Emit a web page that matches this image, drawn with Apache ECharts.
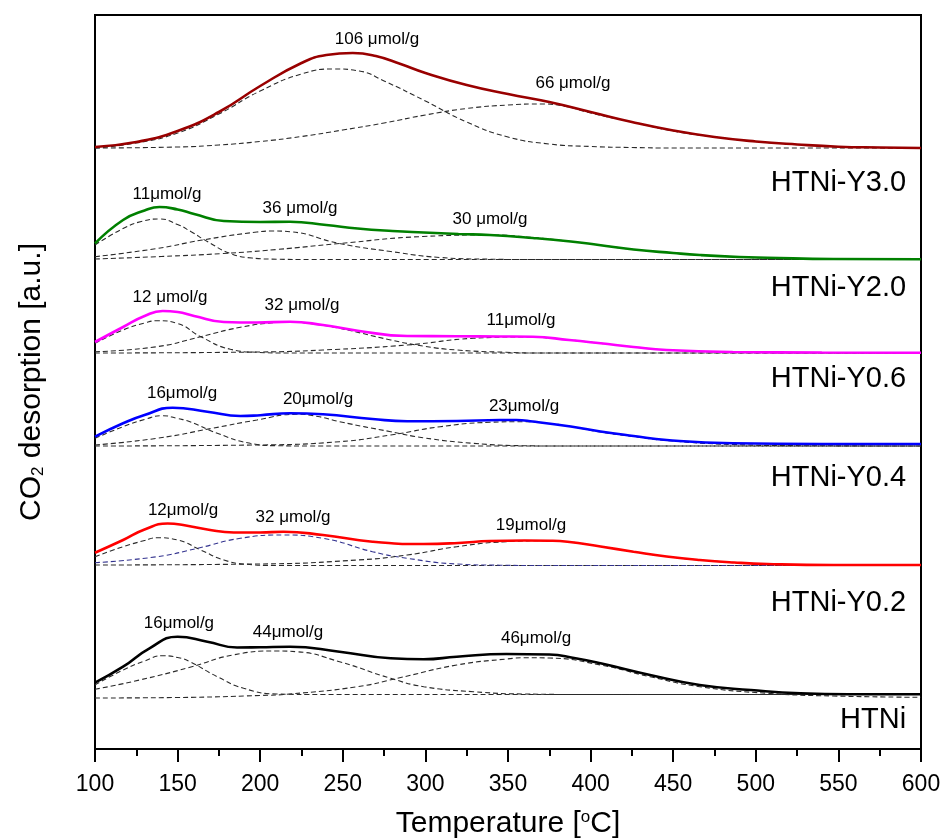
<!DOCTYPE html>
<html>
<head>
<meta charset="utf-8">
<script src="https://cdn.jsdelivr.net/npm/echarts@6/dist/echarts.min.js"></script>
<style>
  html, body { margin: 0; padding: 0; background: #fff; }
  #chart { width: 944px; height: 839px; }
</style>
</head>
<body>
<div id="chart"></div>
<script>
// CO2-TPD profiles, stacked with a vertical offset per sample.
// Each profile: measured curve + deconvoluted component peaks, [temperature (°C), signal (a.u.)].

const sampleNames = ['HTNi-Y3.0', 'HTNi-Y2.0', 'HTNi-Y0.6', 'HTNi-Y0.4', 'HTNi-Y0.2', 'HTNi'];
const sampleOffsets = [601, 489.5, 396, 303, 183.5, 51];

// HTNi-Y3.0
const y30Total = [[100,1],[125,6],[150,17],[175,36],[200,62],[225,85],[240,93],[256,95],[270,92],[285,84],[300,75],[325,63],[350,54],[375,46],[400,36],[425,26],[450,17.5],[475,11],[500,6.5],[525,3.5],[550,1.3],[575,0.5],[600,0]];
const y30PeakA = [[100,0],[125,5],[150,15],[175,34],[200,57],[225,74],[245,79],[260,77],[275,67],[300,47],[325,26],[350,11],[375,4],[400,1.5],[425,0.5],[450,0],[600,0]];
const y30PeakB = [[100,0],[150,1],[175,3],[200,6.5],[225,11.5],[250,18],[275,25],[300,33],[325,39.5],[350,43],[370,44],[385,41.5],[400,35],[425,26],[450,17],[475,11],[500,6.5],[525,3.5],[550,1.3],[575,0.5],[600,0]];
const y30Amounts = ['106 μmol/g', '66 μmol/g'];

// HTNi-Y2.0
const y20Total = [[100,16],[117,39.5],[130,49],[139,52.5],[150,50],[160,45.5],[178,38.5],[200,37.5],[218,37.8],[240,34.5],[259,31],[280,28.5],[299,27],[320,25.5],[339,24.5],[365,21.5],[388,18],[405,14.5],[426,10],[450,6.5],[466,4.5],[490,2.5],[507,1.8],[547,0.5],[600,0.2]];
const y20PeakA = [[100,14.5],[117,31],[128,38],[139,40.5],[150,35],[158,28],[168,18],[182,6],[195,1.5],[210,0.3],[230,0],[600,0]];
const y20PeakB = [[100,2.8],[137.5,11],[165,19.5],[198,27.5],[208,28.5],[218,27.8],[248,16],[279,8],[309,2],[339,0.3],[360,0],[600,0]];
const y20PeakC = [[100,0.5],[140,3],[177.5,6],[210,10],[248,16],[298.5,23],[339,24.5],[365,22],[388,18],[405,14.5],[426,10],[450,6.5],[466,4.5],[490,2.5],[507,1.5],[547,0.5],[600,0]];
const y20Amounts = ['11μmol/g', '36 μmol/g', '30 μmol/g'];

// HTNi-Y0.6
const y06Total = [[100,11],[117,26],[130,37],[141,42],[150,41],[160,37],[178,31],[198,30.5],[218,31.3],[238,28],[259,22.3],[289,17],[319,16.8],[345,16.5],[365,16.2],[387,13],[406,9.7],[426,6],[446,3],[486,1],[540,0.5],[600,0.3]];
const y06PeakA = [[100,9.7],[117,23],[130,30],[138,32.3],[150,29.5],[164,16.3],[182,3.7],[198,0.7],[215,0],[600,0]];
const y06PeakB = [[100,1.3],[137.5,6.3],[164,16.3],[188,25.7],[210,30.5],[218,31],[230,29.5],[248,24.7],[279,13],[298.5,7],[319,3],[349,0.7],[370,0],[600,0]];
const y06PeakC = [[100,0],[200,1],[238,3],[289,8],[329,14.7],[359,16],[375,15],[388,13],[406,9.7],[426,6],[446,3],[486,1],[530,0.3],[600,0]];
const y06Amounts = ['12 μmol/g', '32 μmol/g', '11μmol/g'];

// HTNi-Y0.4
const y04Total = [[100,9.3],[117,22.7],[130,31],[147,38.3],[168,34.3],[188,30],[200,30.8],[218,32.7],[238,31.7],[268,27],[289,24.8],[319,25],[345,26],[355,26],[365,24.5],[388,19.5],[406,14.5],[426,10],[446,6],[486,2.7],[540,2],[600,2]];
const y04PeakA = [[100,7.7],[117,19.3],[130,26.5],[141,30.3],[150,27.5],[157.5,24.3],[174,12.7],[194,2.7],[210,0.3],[230,0],[600,0]];
const y04PeakB = [[100,1],[137.5,7.7],[171,17.7],[198,26],[222,31.7],[235,29.5],[248,24.3],[279,14.3],[298.5,8.3],[329,2.7],[359,0.3],[380,0],[600,0]];
const y04PeakC = [[100,0],[198,1],[248,4.3],[279,11],[309,19.3],[339,23.7],[359,24.3],[375,22.5],[388,19.5],[406,14],[426,9.5],[446,5.5],[486,1.5],[530,0.3],[600,0]];
const y04Amounts = ['16μmol/g', '20μmol/g', '23μmol/g'];

// HTNi-Y0.2
const y02Total = [[100,12.8],[117,25.5],[130,36],[144,42],[155,40],[168,36],[184,33],[200,33],[214,33.8],[238,30.5],[268,23.8],[299,21.5],[320,22.5],[339,24.5],[360,25],[375,24.8],[386,23.8],[406,19],[426,13.8],[446,9],[466,5.5],[487,3],[507,1.5],[547,0.5],[600,0.5]];
const y02PeakA = [[100,8.8],[117,18.8],[130,25],[137.5,27.8],[150,25.5],[164,15.5],[178,5.5],[192,1.2],[210,0],[600,0]];
const y02PeakB = [[100,2.8],[137.5,8.8],[162,17.2],[188,27.2],[214,30.5],[238,27.2],[268,13.8],[289,7.2],[319,1.5],[345,0.3],[370,0],[600,0]];
const y02PeakC = [[100,0.5],[200,1.5],[259,5.5],[289,10.5],[319,18.8],[349,23.8],[375,24.8],[386,23.8],[406,19],[426,13.8],[446,9],[466,5.5],[487,3],[507,1.3],[547,0.3],[600,0]];
const y02Amounts = ['12μmol/g', '32 μmol/g', '19μmol/g'];

// HTNi
const htTotal = [[100,15.3],[117,31.3],[133,49.7],[150,61.3],[168,56.3],[186,50.5],[200,50.8],[218,51.3],[248,46.3],[279,39.7],[299,38.7],[319,41.3],[349,44],[375,43.5],[390,40],[406,34.7],[436,23],[466,13],[497,8],[527,4.7],[560,3.8],[600,3.7]];
const htPeakA = [[100,13],[117,28],[130,37],[141,42.3],[150,40.5],[157.5,36.3],[174,21.3],[190,9.7],[210,4],[238,3.5],[600,3.5]];
const htPeakB = [[100,8.7],[127,18],[157.5,30.7],[183.5,43],[210,47],[222,46.3],[248,36.3],[279,19.7],[299,11.3],[329,6.3],[359,4],[400,3.5],[600,3.5]];
const htPeakC = [[100,0],[150,0.5],[200,2.5],[218,4],[259,11.3],[283,19.7],[319,33],[349,39],[362,40.3],[375,40],[406,33],[436,21.3],[466,11.3],[507,4.7],[547,2],[600,0.7]];
const htAmounts = ['16μmol/g', '44μmol/g', '46μmol/g'];

// x-axis ticks
const tempMin = 100, tempMax = 600, tempStep = 50;

// ---- annotation placement (temperature, height above the sample's offset) ----
const amountLabelAt = [
  [[270.7,109],[389.3,65]],
  [[143.6,65.5],[224.1,51.5],[339.1,40.5]],
  [[145.4,56],[225.3,48],[357.9,33]],
  [[152.7,53],[235,47],[359.7,40]],
  [[153.3,55.5],[219.9,48.5],[363.9,40.5]],
  [[150.8,75],[216.8,66],[367,60]]
];
const nameLabelT = 591;
const nameLabelY = [566, 461, 370, 271, 146, 29];

// ---- styling ----
const FONT = 'Liberation Sans, Arial, Helvetica, sans-serif';
const sampleColors = ['#990000', '#008000', '#ff00ff', '#0000ff', '#ff0000', '#000000'];
const dashColor = '#2a2a2a';
const peakDashColors = [
  [dashColor, dashColor],
  [dashColor, dashColor, dashColor],
  [dashColor, dashColor, dashColor],
  [dashColor, dashColor, dashColor],
  [dashColor, '#33338f', dashColor],
  [dashColor, dashColor, dashColor]
];

const totals = [y30Total, y20Total, y06Total, y04Total, y02Total, htTotal];
const peaks = [
  [y30PeakA, y30PeakB],
  [y20PeakA, y20PeakB, y20PeakC],
  [y06PeakA, y06PeakB, y06PeakC],
  [y04PeakA, y04PeakB, y04PeakC],
  [y02PeakA, y02PeakB, y02PeakC],
  [htPeakA, htPeakB, htPeakC]
];
const amounts = [y30Amounts, y20Amounts, y06Amounts, y04Amounts, y02Amounts, htAmounts];

const shift = (pts, off) => pts.map(([t, v]) => [t, off + v]);
const SMOOTH = 0.5;
// invisible anchor symbols for text labels (full opacity so labels stay black)
const hidden = { color: 'rgba(0,0,0,0)', opacity: 1 };

const series = [];
sampleNames.forEach((name, i) => {
  const off = sampleOffsets[i];
  peaks[i].forEach((pk, j) => {
    series.push({
      type: 'line',
      name: name + ' peak ' + (j + 1),
      data: shift(pk, off),
      smooth: SMOOTH,
      showSymbol: false,
      symbol: 'none',
      z: 2,
      lineStyle: { color: peakDashColors[i][j], width: 1.1, type: [5, 3] }
    });
  });
  series.push({
    type: 'line',
    name: name,
    data: shift(totals[i], off),
    smooth: SMOOTH,
    showSymbol: false,
    symbol: 'none',
    z: 5,
    lineStyle: { color: sampleColors[i], width: 2.6 }
  });
  // peak amount labels
  series.push({
    type: 'scatter',
    name: name + ' amounts',
    symbolSize: 1,
    itemStyle: hidden,
    z: 6,
    data: amounts[i].map((txt, j) => ({
      value: [amountLabelAt[i][j][0], off + amountLabelAt[i][j][1]],
      label: { formatter: txt }
    })),
    label: {
      show: true, position: 'inside', align: 'center', verticalAlign: 'middle',
      fontFamily: FONT, fontSize: 17, color: '#000', opacity: 1
    }
  });
});

// sample names on the right
series.push({
  type: 'scatter',
  name: 'sample names',
  symbolSize: 1,
  itemStyle: hidden,
  z: 6,
  data: sampleNames.map((n, i) => ({ value: [nameLabelT, nameLabelY[i]], label: { formatter: n } })),
  label: {
    show: true, position: 'inside', align: 'right', verticalAlign: 'middle',
    fontFamily: FONT, fontSize: 29, color: '#000', opacity: 1
  }
});

const chart = echarts.init(document.getElementById('chart'), null, { renderer: 'canvas' });
chart.setOption({
  animation: false,
  backgroundColor: '#ffffff',
  grid: {
    left: 95, right: 23, top: 15, bottom: 90,
    outerBoundsMode: 'none',
    show: true, borderColor: '#000', borderWidth: 2, backgroundColor: 'transparent'
  },
  xAxis: {
    type: 'value',
    min: tempMin, max: tempMax, interval: tempStep,
    name: 'Temperature [{sup|o}C]',
    nameLocation: 'middle',
    nameGap: 60,
    nameTextStyle: {
      fontFamily: FONT, fontSize: 30, color: '#000',
      rich: { sup: { fontFamily: FONT, fontSize: 17, color: '#000', verticalAlign: 'top', lineHeight: 30 } }
    },
    axisLine: { show: true, lineStyle: { color: '#000', width: 2 } },
    axisTick: { show: true, inside: false, length: 13, lineStyle: { color: '#000', width: 2 } },
    minorTick: { show: true, splitNumber: 2, length: 7, lineStyle: { color: '#000', width: 2 } },
    splitLine: { show: false },
    axisLabel: { fontFamily: FONT, fontSize: 23, color: '#000', margin: 24 }
  },
  yAxis: {
    type: 'value',
    min: 0, max: 734,
    name: 'CO{sub|2} desorption [a.u.]',
    nameLocation: 'middle',
    nameGap: 48,
    nameTextStyle: {
      fontFamily: FONT, fontSize: 30, color: '#000',
      rich: { sub: { fontFamily: FONT, fontSize: 17, color: '#000', verticalAlign: 'bottom', lineHeight: 30 } }
    },
    axisLine: { show: true, lineStyle: { color: '#000', width: 2 } },
    axisTick: { show: false },
    axisLabel: { show: false },
    splitLine: { show: false }
  },
  series: series
});
</script>
</body>
</html>
